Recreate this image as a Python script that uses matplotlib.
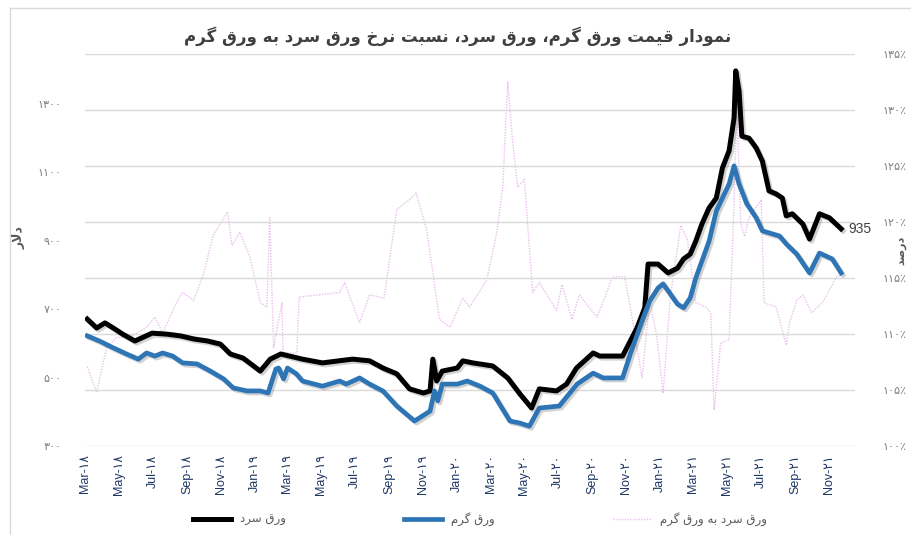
import matplotlib
matplotlib.use("Agg")
import matplotlib.pyplot as plt
import matplotlib.dates as mdates
import matplotlib.patheffects as pe
from matplotlib.lines import Line2D
import pandas as pd

# --- data ---
cold_dates = ["2018-03-05", "2018-03-22", "2018-04-06", "2018-04-21", "2018-05-08", "2018-05-30",
              "2018-06-30", "2018-07-27", "2018-08-20", "2018-09-13", "2018-10-08", "2018-10-31",
              "2018-11-18", "2018-12-11", "2019-01-11", "2019-01-29", "2019-02-17", "2019-03-28",
              "2019-05-03", "2019-06-26", "2019-07-27", "2019-08-20", "2019-09-14", "2019-10-07",
              "2019-11-01", "2019-11-13", "2019-11-18", "2019-11-25", "2019-12-05", "2020-01-01",
              "2020-01-11", "2020-01-29", "2020-03-05", "2020-04-01", "2020-04-23", "2020-05-14",
              "2020-05-28", "2020-06-28", "2020-07-16", "2020-08-03", "2020-09-02", "2020-09-14",
              "2020-10-25", "2020-11-20", "2020-12-04", "2020-12-10", "2020-12-28", "2021-01-15",
              "2021-02-01", "2021-02-12", "2021-02-24", "2021-03-06", "2021-03-17", "2021-03-30",
              "2021-04-12", "2021-04-23", "2021-05-05", "2021-05-14", "2021-05-17", "2021-05-23",
              "2021-05-28", "2021-06-10", "2021-06-23", "2021-07-04", "2021-07-16", "2021-07-29",
              "2021-08-09", "2021-08-16", "2021-08-27", "2021-09-15", "2021-09-27", "2021-10-15",
              "2021-11-02", "2021-11-23"]
cold_vals = [671, 645, 660, 645, 627, 607, 630, 627, 622, 613, 607, 598,
             569, 557, 519, 554, 569, 554, 543, 554, 549, 528, 511, 467,
             455, 461, 554, 490, 519, 528, 549, 543, 534, 499, 452, 411,
             467, 461, 481, 528, 572, 563, 563, 645, 704, 832, 832, 806,
             820, 847, 861, 899, 949, 996, 1025, 1113, 1163, 1259, 1397, 1338,
             1206, 1200, 1171, 1133, 1046, 1037, 1025, 973, 979, 949, 905, 979,
             967, 935]

hot_dates = ["2018-03-05", "2018-03-27", "2018-04-21", "2018-05-15", "2018-06-05", "2018-06-20",
             "2018-07-05", "2018-07-19", "2018-08-06", "2018-08-24", "2018-09-19", "2018-10-13",
             "2018-11-06", "2018-11-23", "2018-12-18", "2019-01-11", "2019-01-25", "2019-02-08",
             "2019-02-13", "2019-02-22", "2019-03-01", "2019-03-17", "2019-03-28", "2019-05-03",
             "2019-06-03", "2019-06-15", "2019-07-09", "2019-07-27", "2019-08-20", "2019-09-14",
             "2019-10-16", "2019-11-13", "2019-11-21", "2019-11-27", "2019-12-05", "2020-01-01",
             "2020-01-19", "2020-02-11", "2020-03-05", "2020-04-05", "2020-04-23", "2020-05-10",
             "2020-05-28", "2020-07-03", "2020-08-04", "2020-09-02", "2020-09-20", "2020-10-25",
             "2020-11-08", "2020-12-01", "2020-12-13", "2020-12-28", "2021-01-06", "2021-02-01",
             "2021-02-12", "2021-02-24", "2021-03-06", "2021-03-30", "2021-04-12", "2021-05-05",
             "2021-05-14", "2021-05-23", "2021-06-06", "2021-06-23", "2021-07-04", "2021-08-04",
             "2021-08-16", "2021-09-04", "2021-09-27", "2021-10-15", "2021-11-07", "2021-11-23"]
hot_vals = [622, 607, 587, 569, 554, 572, 563, 572, 563, 543, 540, 519,
            496, 470, 461, 461, 455, 525, 528, 496, 528, 511, 490, 475,
            490, 481, 499, 481, 461, 417, 373, 402, 461, 432, 481, 481,
            490, 475, 455, 373, 367, 358, 411, 417, 481, 513, 499, 499,
            569, 674, 724, 762, 774, 715, 704, 733, 791, 899, 987, 1066,
            1119, 1066, 1008, 967, 929, 914, 891, 861, 806, 864, 847, 806]

ratio_dates = ["2018-03-05", "2018-03-22", "2018-04-09", "2018-04-27", "2018-05-20", "2018-06-20",
               "2018-07-05", "2018-07-19", "2018-08-13", "2018-08-24", "2018-09-13", "2018-10-01",
               "2018-10-18", "2018-11-13", "2018-11-21", "2018-12-05", "2018-12-23", "2019-01-11",
               "2019-01-23", "2019-01-28", "2019-02-04", "2019-02-19", "2019-02-21", "2019-03-18",
               "2019-03-22", "2019-04-27", "2019-06-03", "2019-06-12", "2019-07-09", "2019-07-27",
               "2019-08-22", "2019-09-14", "2019-10-07", "2019-10-19", "2019-11-07", "2019-11-30",
               "2019-12-19", "2020-01-11", "2020-01-23", "2020-02-23", "2020-03-12", "2020-03-23",
               "2020-04-01", "2020-04-10", "2020-04-19", "2020-05-01", "2020-05-16", "2020-05-28",
               "2020-06-28", "2020-07-08", "2020-07-26", "2020-08-08", "2020-09-09", "2020-10-07",
               "2020-10-29", "2020-11-13", "2020-11-29", "2020-12-13", "2020-12-26", "2021-01-06",
               "2021-01-19", "2021-02-07", "2021-02-19", "2021-03-06", "2021-03-24", "2021-04-02",
               "2021-04-08", "2021-04-20", "2021-05-05", "2021-05-14", "2021-05-19", "2021-05-26",
               "2021-06-02", "2021-06-10", "2021-07-02", "2021-07-07", "2021-07-29", "2021-08-16",
               "2021-08-22", "2021-09-04", "2021-09-15", "2021-10-01", "2021-10-20", "2021-11-15",
               "2021-11-23"]
ratio_vals = [107.1, 104.8, 108.8, 109.7, 109.7, 110.6, 111.5, 110.1, 112.8, 113.7, 113.0, 115.4,
              118.8, 120.9, 117.9, 119.1, 116.9, 112.8, 112.4, 120.4, 108.8, 112.8, 108.3, 108.3,
              113.3, 113.5, 113.7, 114.6, 111.0, 113.5, 113.2, 121.1, 122.0, 122.6, 119.3, 111.3,
              110.6, 113.2, 112.4, 114.8, 119.0, 123.1, 132.5, 127.1, 123.1, 123.8, 113.7, 114.6,
              112.1, 114.4, 111.3, 113.5, 111.5, 115.1, 115.1, 111.0, 106.1, 113.0, 109.7, 104.7,
              113.3, 119.7, 118.4, 112.8, 112.4, 111.9, 103.2, 109.2, 109.5, 121.7, 130.6, 119.9,
              118.7, 120.4, 122.0, 112.8, 112.4, 109.0, 111.0, 113.0, 113.5, 111.9, 112.8, 115.1,
              115.3]

left_ticks = [300, 500, 700, 900, 1100, 1300]
right_ticks = [100, 105, 110, 115, 120, 125, 130, 135]

title = "نمودار قیمت ورق گرم، ورق سرد، نسبت نرخ ورق سرد به ورق گرم"
label_cold = "ورق سرد"
label_hot = "ورق گرم"
label_ratio = "ورق سرد به ورق گرم"
left_title = "دلار"
right_title = "درصد"

# --- tiny persian shaper (matplotlib has no arabic shaping) ---
DUAL = {
    "ب": (0xFE8F, 0xFE90, 0xFE91, 0xFE92), "ت": (0xFE95, 0xFE96, 0xFE97, 0xFE98),
    "خ": (0xFEA5, 0xFEA6, 0xFEA7, 0xFEA8), "س": (0xFEB1, 0xFEB2, 0xFEB3, 0xFEB4),
    "ص": (0xFEB9, 0xFEBA, 0xFEBB, 0xFEBC), "ق": (0xFED5, 0xFED6, 0xFED7, 0xFED8),
    "ل": (0xFEDD, 0xFEDE, 0xFEDF, 0xFEE0), "م": (0xFEE1, 0xFEE2, 0xFEE3, 0xFEE4),
    "ن": (0xFEE5, 0xFEE6, 0xFEE7, 0xFEE8), "ه": (0xFEE9, 0xFEEA, 0xFEEB, 0xFEEC),
    "ی": (0xFBFC, 0xFBFD, 0xFBFE, 0xFBFF), "گ": (0xFB92, 0xFB93, 0xFB94, 0xFB95),
}
RIGHT = {"ا": (0xFE8D, 0xFE8E), "د": (0xFEA9, 0xFEAA), "ر": (0xFEAD, 0xFEAE),
         "و": (0xFEED, 0xFEEE), "\uE000": (0xFEFB, 0xFEFC)}


def fa(text):
    chars = list(text.replace("لا", "\uE000"))
    out = []
    for i, c in enumerate(chars):
        prev = chars[i - 1] if i > 0 else ""
        nxt = chars[i + 1] if i + 1 < len(chars) else ""
        jp = prev in DUAL
        if c in DUAL:
            jn = nxt in DUAL or nxt in RIGHT
            f = DUAL[c]
            code = f[3] if jp and jn else f[1] if jp else f[2] if jn else f[0]
            out.append(chr(code))
        elif c in RIGHT:
            out.append(chr(RIGHT[c][1] if jp else RIGHT[c][0]))
        else:
            out.append(c)
    return "".join(out)[::-1]


FA_DIGITS = str.maketrans("0123456789", "۰۱۲۳۴۵۶۷۸۹")


def fa_num(s):
    return str(s).translate(FA_DIGITS)


plt.rcParams["font.family"] = ["DejaVu Sans"]

cold_x = pd.to_datetime(cold_dates)
hot_x = pd.to_datetime(hot_dates)
ratio_x = pd.to_datetime(ratio_dates)

fig = plt.figure(figsize=(9.12, 5.35), dpi=100)
ax = fig.add_axes([85 / 912, 1 - 446 / 535, 770 / 912, 392 / 535])
ax2 = ax.twinx()

# ratio on secondary axis, drawn behind the price lines
ax2.plot(ratio_x, ratio_vals, color="#e8c0ec", lw=1.0, ls=(0, (1, 1)), zorder=1)
ax2.set_ylim(100, 135)
ax2.set_yticks(right_ticks)
ax2.set_yticklabels([fa_num(t) + "٪" for t in right_ticks], color="#7f7f7f", fontsize=8)
ax2.grid(axis="y", color="#d9d9d9", lw=1)
ax2.tick_params(axis="y", length=0, pad=20)

shadow = [pe.SimpleLineShadow(offset=(1.5, -1.5), shadow_color="#808080", alpha=0.35), pe.Normal()]
ax.plot(cold_x, cold_vals, color="black", lw=3.6, solid_joinstyle="round", path_effects=shadow)
ax.plot(hot_x, hot_vals, color="#2e75b6", lw=3.4, solid_joinstyle="round", path_effects=shadow)
ax.set_zorder(ax2.get_zorder() + 1)
ax.patch.set_visible(False)

ax.set_ylim(300, 300 + 392 * 2.924)
ax.set_yticks(left_ticks)
ax.set_yticklabels([fa_num(t) for t in left_ticks], color="#7f7f7f", fontsize=8)
ax.tick_params(axis="y", length=0, pad=17)

ax.set_xlim(pd.Timestamp("2018-03-01"), pd.Timestamp("2021-12-18"))
ax.xaxis.set_major_locator(mdates.MonthLocator(bymonth=[1, 3, 5, 7, 9, 11]))
ticks = ax.get_xticks()
ax.set_xticks(ticks)
ax.set_xticklabels([mdates.num2date(t).strftime("%b-") + fa_num(mdates.num2date(t).strftime("%y"))
                    for t in ticks], rotation=90, color="#1f3864", fontsize=9,
                   family=["Liberation Sans", "DejaVu Sans"])
ax.tick_params(axis="x", length=0, pad=6)

for a in (ax, ax2):
    for s in a.spines.values():
        s.set_visible(False)

# last value label
ax.annotate("935", (cold_x[-1], cold_vals[-1]), xytext=(5, 0), textcoords="offset points",
            fontsize=10, color="#404040", va="center", family=["Liberation Sans"])

fig.text(458 / 912, 1 - 36 / 535, fa(title), ha="center", va="center", fontsize=12,
         fontweight="bold", color="#404040")
fig.text(19 / 912, 1 - 238 / 535, fa(left_title), rotation=90, ha="center", va="center",
         fontsize=9, fontweight="bold", color="#595959")
fig.text(901 / 912, 1 - 250 / 535, fa(right_title), rotation=90, ha="center", va="center",
         fontsize=8, fontweight="bold", color="#595959")

# chart border (light)
fig.add_artist(Line2D([10 / 912, 10 / 912], [0, 1 - 8 / 535], color="#d9d9d9", lw=1))
fig.add_artist(Line2D([10 / 912, 1], [1 - 8 / 535, 1 - 8 / 535], color="#d9d9d9", lw=1))

handles = [Line2D([], [], color="black", lw=3.6),
           Line2D([], [], color="#2e75b6", lw=3.4),
           Line2D([], [], color="#e8c0ec", lw=1.0, ls=(0, (1, 1)))]
fig.legend(handles, [fa(label_cold), fa(label_hot), fa(label_ratio)], loc="center",
           bbox_to_anchor=(480 / 912, 1 - 519 / 535), ncol=3, frameon=False, fontsize=8.5,
           handlelength=3.2, columnspacing=10, labelcolor="#595959")

fig.savefig("out.png", dpi=100)
